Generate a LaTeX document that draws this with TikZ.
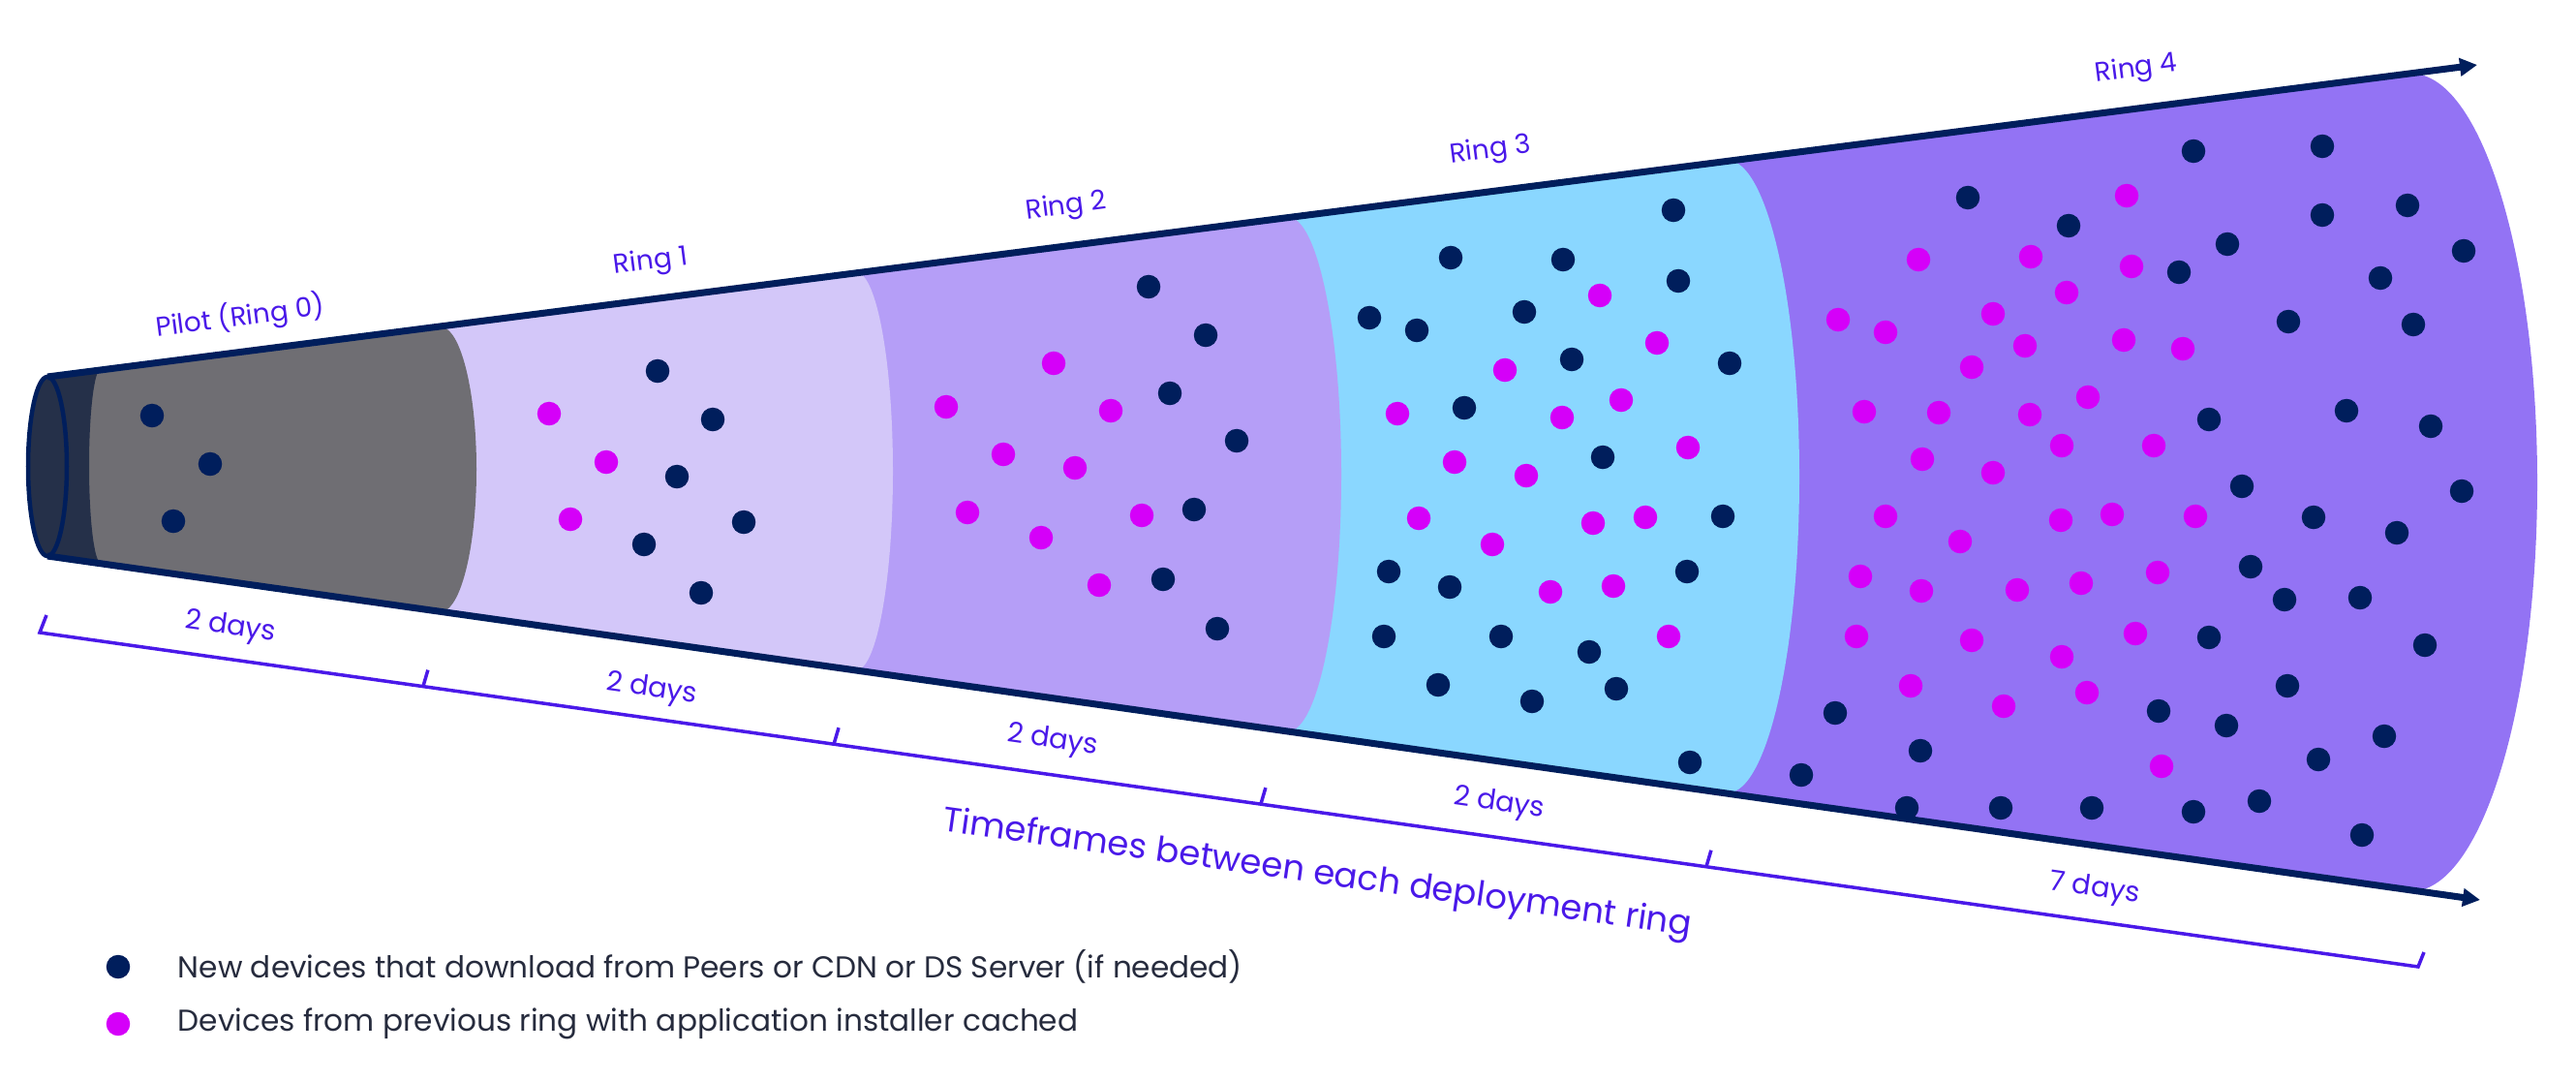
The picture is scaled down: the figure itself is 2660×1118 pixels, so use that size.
\documentclass[tikz,border=0pt]{standalone}
\usepackage{fontspec}
\setmainfont{Poppins}
\usepackage{xcolor}
\usepackage{tikz}
\usetikzlibrary{arrows.meta,positioning,calc}

\definecolor{conenavy}{HTML}{001E5C}
\definecolor{devpink}{HTML}{D500F9}
\definecolor{capdark}{HTML}{253049}
\definecolor{pilotgray}{HTML}{6F6E73}
\definecolor{ringone}{HTML}{D3C7F9}
\definecolor{ringtwo}{HTML}{B59EF7}
\definecolor{ringthree}{HTML}{8AD7FF}
\definecolor{ringfour}{HTML}{9373F4}
\definecolor{labelviolet}{HTML}{4A19E9}
\definecolor{keytext}{HTML}{262B3D}

\begin{document}
\begin{tikzpicture}[x=0.01cm, y=-0.01cm,
        newdev/.style={circle, fill=conenavy, minimum size=0.245cm, inner sep=0pt, outer sep=0pt},
        cacheddev/.style={newdev, fill=devpink},
        axis/.style={draw=conenavy, line width=0.07cm, -{Triangle[length=0.18cm, width=0.18cm]}},
        bracket/.style={draw=labelviolet, line width=0.035cm},
        ringlabel/.style={text=labelviolet, inner sep=0pt, font=\fontsize{7.9}{10}\selectfont, rotate=7.3},
        daylabel/.style={text=labelviolet, inner sep=0pt, font=\fontsize{8.2}{10}\selectfont, rotate=-8},
        keylabel/.style={text=keytext, inner sep=0pt, anchor=west, font=\fontsize{8.85}{10}\selectfont}]
    \useasboundingbox (0,0) rectangle (2660,1118);

    \begin{scope}
        \clip (49,389) -- (2700,49) -- (2700,949) -- (49,574) -- cycle;
        \fill[ringfour] (0,0) -- (2490,0) -- (2490,76) arc[start angle=-90, end angle=90, x radius=130, y radius=422] -- (2490,1118) -- (0,1118) -- cycle;
        \fill[ringthree] (0,0) -- (1784,0) -- (1784,165.5) arc[start angle=-90, end angle=90, x radius=74, y radius=326.5] -- (1784,1118) -- (0,1118) -- cycle;
        \fill[ringtwo] (0,0) -- (1330,0) -- (1330,224) arc[start angle=-90, end angle=90, x radius=55, y radius=265.5] -- (1330,1118) -- (0,1118) -- cycle;
        \fill[ringone] (0,0) -- (884,0) -- (884,281) arc[start angle=-90, end angle=90, x radius=38, y radius=205.5] -- (884,1118) -- (0,1118) -- cycle;
        \fill[pilotgray] (0,0) -- (455,0) -- (455,337.5) arc[start angle=-90, end angle=90, x radius=37, y radius=147] -- (455,1118) -- (0,1118) -- cycle;
        \fill[capdark] (0,0) -- (104,0) -- (104,381) arc[start angle=-90, end angle=-270, x radius=12, y radius=100] -- (104,1118) -- (0,1118) -- cycle;
    \end{scope}
    \draw[conenavy, fill=capdark, line width=0.045cm] (49,481.5) ellipse [x radius=20, y radius=92.5];

    \coordinate (cap-top) at (49,389);
    \coordinate (cap-bottom) at (49,574);
    \coordinate (top-end) at (2558,67);
    \coordinate (bottom-end) at (2561,929);
    \draw[axis] (cap-top) -- (top-end);
    \draw[axis] (cap-bottom) -- (bottom-end);

    \foreach \x/\y [count=\i] in {157/429, 217/479, 179/538,
            679/383, 736/433, 699/492, 768/539, 665/562, 724/612,
            1186/296, 1245/346, 1208/406, 1277/455, 1233/526, 1201/598, 1257/649,
            1728/217, 1498/266, 1614/268, 1733/290, 1414/328, 1463/341, 1574/322, 1623/371, 1786/375, 1512/421, 1655/472,
            1779/533, 1434/590, 1497/606, 1742/590, 1429/657, 1550/657, 1641/673, 1485/707, 1582/724, 1669/711, 1745/787,
            2032/204, 2136/233, 2265/156, 2398/151, 2398/222, 2486/212, 2300/252, 2250/281, 2544/259, 2458/287, 2363/332,
            2492/335, 2281/433, 2423/424, 2510/440, 2315/502, 2542/507, 1895/736, 1983/775, 1860/800, 1969/834, 2066/834,
            2160/834, 2229/734, 2389/534, 2475/550, 2324/585, 2359/619, 2437/617, 2281/658, 2504/666, 2362/708, 2299/749,
            2462/760, 2394/784, 2333/827, 2265/838, 2439/862}
        \node[newdev] (new-\i) at (\x,\y) {};
    \foreach \x/\y [count=\i] in {567/427, 626/477, 589/536,
            1088/375, 977/420, 1147/424, 1036/469, 1110/483, 999/529, 1179/532, 1075/555, 1135/604,
            1652/305, 1711/354, 1554/382, 1674/413, 1613/431, 1443/427, 1502/477, 1576/491, 1743/462, 1465/535,
            1541/562, 1645/540, 1699/534, 1601/611, 1666/605, 1723/657,
            2196/202, 1981/268, 2097/265, 2201/275, 2134/302, 1898/330, 1947/343, 2058/324, 2091/357, 2193/351,
            2036/379, 2156/410, 1925/425, 2002/426, 2096/428, 2129/460, 2224/460, 1985/474, 2058/488, 2254/360,
            1947/533, 2024/559, 2128/537, 2181/531, 1921/595, 1984/610, 2083/609, 2149/602, 2228/591, 1917/657,
            2036/661, 2129/678, 2205/654, 1973/708, 2069/729, 2155/715, 2267/533, 2232/791}
        \node[cacheddev] (cached-\i) at (\x,\y) {};

    \node[ringlabel] (pilot) at (248,327) {Pilot (Ring 0)};
    \node[ringlabel] (ring1) at (672,271) {Ring 1};
    \node[ringlabel] (ring2) at (1101,214) {Ring 2};
    \node[ringlabel] (ring3) at (1539,156) {Ring 3};
    \node[ringlabel] (ring4) at (2206,72) {Ring 4};

    \coordinate (span-start) at (41,653);
    \coordinate (span-end) at (2497,998);
    \draw[bracket] ($(span-start)+(7,-18)$) -- (span-start) -- (span-end) -- ++(6,-15);
    \foreach \t [count=\k] in {0.1612, 0.3339, 0.5134, 0.7007} {
        \coordinate (tick-\k) at ($(span-start)!\t!(span-end)$);
        \draw[bracket] (tick-\k) -- ++(5,-17);
    }
    \node[daylabel] (gap1) at (238,648) {2 days};
    \node[daylabel] (gap2) at (673,712) {2 days};
    \node[daylabel] (gap3) at (1087,765) {2 days};
    \node[daylabel] (gap4) at (1548,830) {2 days};
    \node[daylabel] (gap5) at (2163,918) {7 days};
    \node[text=labelviolet, inner sep=0pt, font=\fontsize{10.1}{12}\selectfont, rotate=-8] (timeframes) at (1360,903) {Timeframes between each deployment ring};

    \node[newdev] (key-new) at (122,998) {};
    \node[cacheddev] (key-cached) at (122,1057) {};
    \node[keylabel, right=0.49cm of key-new] (key-new-text) {New devices that download from Peers or CDN or DS Server (if needed)};
    \node[keylabel, right=0.49cm of key-cached] (key-cached-text) {Devices from previous ring with application installer cached};
\end{tikzpicture}
\end{document}
